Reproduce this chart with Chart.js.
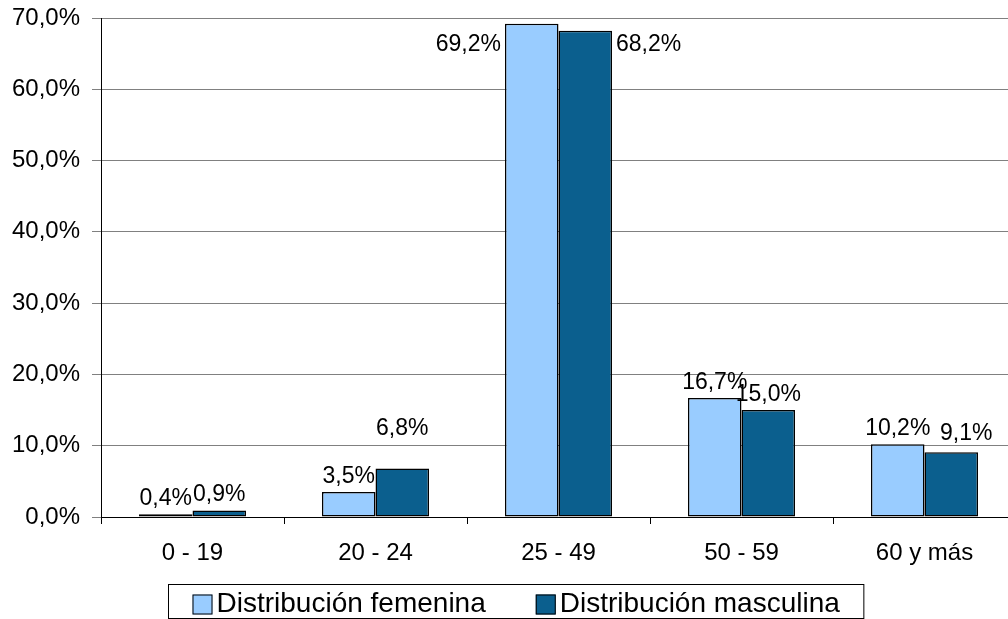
<!DOCTYPE html>
<html>
<head>
<meta charset="utf-8">
<script src="https://cdn.jsdelivr.net/npm/chart.js@4"></script>
<style>
  html, body { margin: 0; padding: 0; background: #fff; overflow: hidden; }
  #wrap { width: 1016px; height: 619px; }
</style>
</head>
<body>
<div id="wrap"><canvas id="distChart"></canvas></div>
<script>
const categories = ['0 - 19', '20 - 24', '25 - 49', '50 - 59', '60 y más'];
const femenina = [0.4, 3.5, 69.2, 16.7, 10.2];
const masculina = [0.9, 6.8, 68.2, 15.0, 9.1];
const seriesNames = ['Distribución femenina', 'Distribución masculina'];
// where the value label sits relative to its bar
const labelPos = [
  ['top', 'top', 'left', 'top', 'top'],
  ['top', 'raised', 'right', 'top', 'topRight']
];

const FONT = 'Liberation Sans, Arial, sans-serif';

function fmt(v) {
  return v.toFixed(1).replace('.', ',') + '%';
}

const valueLabels = {
  id: 'valueLabels',
  afterDatasetsDraw(chart) {
    const ctx = chart.ctx;
    ctx.save();
    ctx.fillStyle = '#000';
    ctx.font = '23px ' + FONT;
    chart.data.datasets.forEach((ds, d) => {
      chart.getDatasetMeta(d).data.forEach((bar, i) => {
        const txt = fmt(ds.data[i]);
        const pos = labelPos[d][i];
        if (pos === 'left') {
          ctx.textAlign = 'right';
          ctx.textBaseline = 'middle';
          ctx.fillText(txt, bar.x - bar.width / 2 - 4, bar.y + 21);
        } else if (pos === 'right') {
          ctx.textAlign = 'left';
          ctx.textBaseline = 'middle';
          ctx.fillText(txt, bar.x + bar.width / 2 + 4, bar.y + 14);
        } else {
          let x = bar.x, y = bar.y - 4;
          if (pos === 'raised') y -= 24;
          if (pos === 'topRight') { x += bar.width * 0.28; y -= 3; }
          ctx.textAlign = 'center';
          ctx.textBaseline = 'bottom';
          ctx.fillText(txt, x, y);
        }
      });
    });
    ctx.restore();
  }
};

// boxed legend drawn under the axis
const boxLegend = {
  id: 'boxLegend',
  afterDraw(chart) {
    const ctx = chart.ctx;
    const sw = 20, gap = 4, between = 50, padX = 24;
    ctx.save();
    ctx.font = '28px ' + FONT;
    const widths = chart.data.datasets.map(ds => ctx.measureText(ds.label).width);
    let boxW = padX * 2;
    widths.forEach((w, k) => { boxW += sw + gap + w + (k > 0 ? between : 0); });
    const boxH = 34;
    const left = Math.round(516 - boxW / 2) + 0.5;
    const top = 584.5;
    ctx.strokeStyle = '#000';
    ctx.lineWidth = 1;
    ctx.strokeRect(left, top, boxW, boxH);

    let x = left + padX;
    const cy = top + 20;
    chart.data.datasets.forEach((ds, k) => {
      ctx.fillStyle = ds.backgroundColor;
      ctx.fillRect(x, cy - 10, sw, sw);
      ctx.strokeRect(x + 0.5, cy - 9.5, sw - 1, sw - 1);
      ctx.fillStyle = '#000';
      ctx.textAlign = 'left';
      ctx.textBaseline = 'middle';
      ctx.fillText(ds.label, x + sw + gap, cy);
      x += sw + gap + widths[k] + between;
    });
    ctx.restore();
  }
};

const ctx = document.getElementById('distChart').getContext('2d');
new Chart(ctx, {
  type: 'bar',
  data: {
    labels: categories,
    datasets: [
      {
        label: seriesNames[0],
        data: femenina,
        backgroundColor: '#99CCFF',
        borderColor: '#000',
        borderWidth: 1.5,
        borderSkipped: false
      },
      {
        label: seriesNames[1],
        data: masculina,
        backgroundColor: '#0B5F8E',
        borderColor: '#000',
        borderWidth: 1.5,
        borderSkipped: false
      }
    ]
  },
  options: {
    responsive: true,
    maintainAspectRatio: false,
    animation: false,
    devicePixelRatio: 1,
    layout: { padding: { top: 18, right: 0, bottom: 52, left: 0 } },
    datasets: {
      bar: { barPercentage: 1, categoryPercentage: 0.585 }
    },
    plugins: {
      legend: { display: false },
      tooltip: { enabled: false }
    },
    scales: {
      x: {
        offset: true,
        grid: {
          offset: true,
          drawOnChartArea: false,
          drawTicks: true,
          tickLength: 7,
          color: '#000'
        },
        border: { display: true, color: '#000', width: 1 },
        ticks: {
          color: '#000',
          font: { family: FONT, size: 24 },
          padding: 15,
          maxRotation: 0
        },
        afterFit: s => { s.height = 50; }
      },
      y: {
        min: 0,
        max: 70,
        ticks: {
          stepSize: 10,
          color: '#000',
          font: { family: FONT, size: 24 },
          padding: 12,
          callback: v => fmt(v)
        },
        grid: {
          color: '#808080',
          lineWidth: 1,
          tickLength: 9
        },
        border: { display: true, color: '#000', width: 1 },
        afterFit: s => {
          s.width = 101;
          s.paddingTop = 0;
          s.paddingBottom = 0;
        }
      }
    }
  },
  plugins: [valueLabels, boxLegend]
});
</script>
</body>
</html>
